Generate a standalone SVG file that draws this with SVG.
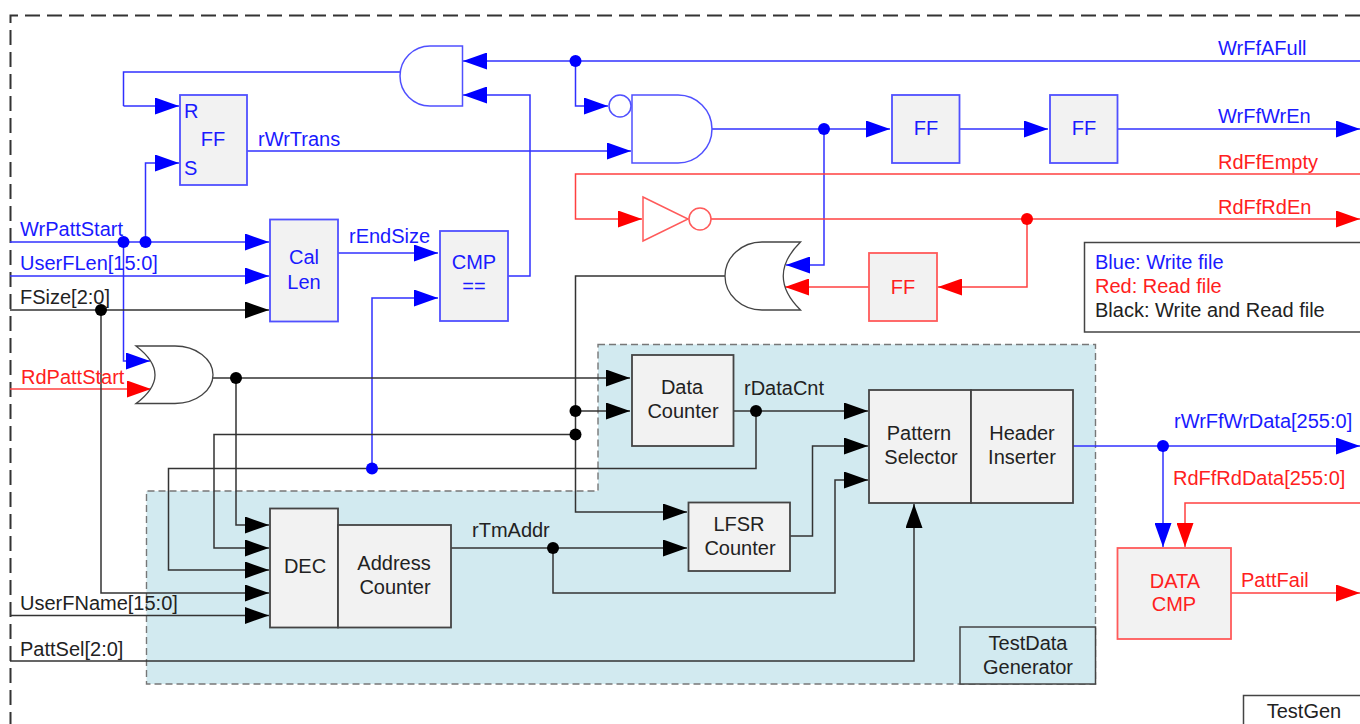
<svg xmlns="http://www.w3.org/2000/svg" width="1360" height="724" viewBox="0 0 1360 724">
<style>
text{font-family:"Liberation Sans",Arial,sans-serif;font-size:20px;text-anchor:middle}
.l{text-anchor:start}
.bt{fill:#1a1aff}.rt{fill:#ff2020}.kt{fill:#222}
.c{fill:none;stroke-width:1.5}
.b{stroke:#3030ff}.r{stroke:#ff4040}.k{stroke:#333}
.ab{marker-end:url(#ab)}.ar{marker-end:url(#ar)}.ak{marker-end:url(#ak)}
.nb{fill:#f2f2f2;stroke:#5050ff;stroke-width:1.8}
.nr{fill:#f2f2f2;stroke:#ff5a5a;stroke-width:1.8}
.nk{fill:#f2f2f2;stroke:#444;stroke-width:1.8}
.gb{fill:#fff;stroke:#5050ff;stroke-width:1.5}
.gr{fill:#fff;stroke:#ff5a5a;stroke-width:1.5}
.gk{fill:#fff;stroke:#444;stroke-width:1.3}
.db{fill:#0000ff}.dk{fill:#000}
</style>
<defs>
<marker id="ab" markerUnits="userSpaceOnUse" markerWidth="24" markerHeight="17" refX="24" refY="8.500" orient="auto"><path d="M0,0L24,8.500L0,17Z" fill="#0000ff"/></marker>
<marker id="ar" markerUnits="userSpaceOnUse" markerWidth="24" markerHeight="17" refX="24" refY="8.500" orient="auto"><path d="M0,0L24,8.500L0,17Z" fill="#ff0000"/></marker>
<marker id="ak" markerUnits="userSpaceOnUse" markerWidth="24" markerHeight="17" refX="24" refY="8.500" orient="auto"><path d="M0,0L24,8.500L0,17Z" fill="#000"/></marker>
</defs>
<rect width="1360" height="724" fill="#fff"/>
<g id="boundary">
<path d="M1360,15.500H10.500V724" fill="none" stroke="#333" stroke-width="2" stroke-dasharray="15,7"/>
<path d="M598,344.500H1095.500V684H146.500V491H598Z" fill="#d2eaf0" stroke="#777" stroke-width="1.4" stroke-dasharray="7,4"/>
</g>
<g id="connectors">
<path class="c b ab" d="M1360,61H463"/>
<path class="c b ab" d="M575.500,61V106H608"/>
<path class="c b" d="M400,72H123.500V106"/>
<path class="c b ab" d="M123.500,106H179"/>
<path class="c b ab" d="M145.500,242V163H179"/>
<path class="c b ab" d="M10,242H269"/>
<path class="c b ab" d="M10,276H269"/>
<path class="c b ab" d="M123.500,242V361H150"/>
<path class="c b ab" d="M247,151H631"/>
<path class="c b ab" d="M338,253H438"/>
<path class="c b ab" d="M508,276H530V95H463"/>
<path class="c b ab" d="M372,468.500V298H438"/>
<path class="c b ab" d="M711,129H890"/>
<path class="c b ab" d="M959,129H1048"/>
<path class="c b ab" d="M1117,129H1360"/>
<path class="c b ab" d="M824,129V265H786"/>
<path class="c b ab" d="M1073,446H1360"/>
<path class="c b ab" d="M1163,446V547"/>
<path class="c r ar" d="M1360,174H575.500V219H642"/>
<path class="c r ar" d="M711,219H1360"/>
<path class="c r ar" d="M1027,219V287H938"/>
<path class="c r ar" d="M869,287H785"/>
<path class="c r ar" d="M10,389H151"/>
<path class="c r ar" d="M1360,503H1185V547"/>
<path class="c r ar" d="M1231,593H1360"/>
<path class="c k ak" d="M10,310H269"/>
<path class="c k ak" d="M101,310V593H269"/>
<path class="c k ak" d="M10,615.500H269"/>
<path class="c k ak" d="M10,661H914V504"/>
<path class="c k ak" d="M212,378H630"/>
<path class="c k ak" d="M236,378V525H269"/>
<path class="c k ak" d="M575.500,434.500H214V548H269"/>
<path class="c k ak" d="M756,411V468.500H168.500V570H269"/>
<path class="c k ak" d="M725,276H575.500V512H687"/>
<path class="c k ak" d="M575.500,411H630"/>
<path class="c k ak" d="M733,411H868"/>
<path class="c k ak" d="M451,548H687"/>
<path class="c k ak" d="M553,548V593H835V480H868"/>
<path class="c k ak" d="M790,536H812.500V446H868"/>
<g class="db">
<circle cx="123.500" cy="242" r="6"/><circle cx="145.500" cy="242" r="6"/><circle cx="575.500" cy="61" r="6"/><circle cx="824" cy="129" r="6"/><circle cx="372" cy="468.500" r="6"/><circle cx="1163" cy="446" r="6"/>
</g>
<circle cx="1027" cy="219" r="6" fill="#ff0000"/>
<g class="dk">
<circle cx="101" cy="310" r="6"/><circle cx="236" cy="378" r="6"/><circle cx="575.500" cy="411" r="6"/><circle cx="575.500" cy="434.500" r="6"/><circle cx="756" cy="411" r="6"/><circle cx="553" cy="548" r="6"/>
</g>
<text class="l bt" x="20" y="236">WrPattStart</text>
<text class="l bt" x="20" y="270">UserFLen[15:0]</text>
<text class="l kt" x="20" y="304">FSize[2:0]</text>
<text class="l rt" x="21" y="384">RdPattStart</text>
<text class="l kt" x="20" y="610">UserFName[15:0]</text>
<text class="l kt" x="20" y="656">PattSel[2:0]</text>
<text class="l bt" x="258" y="146">rWrTrans</text>
<text class="l bt" x="349" y="243">rEndSize</text>
<text class="l kt" x="472" y="537">rTmAddr</text>
<text class="l kt" x="744" y="395">rDataCnt</text>
<text class="l bt" x="1218" y="55">WrFfAFull</text>
<text class="l bt" x="1218" y="123">WrFfWrEn</text>
<text class="l rt" x="1218" y="169">RdFfEmpty</text>
<text class="l rt" x="1218" y="214">RdFfRdEn</text>
<text class="l bt" x="1174" y="428">rWrFfWrData[255:0]</text>
<text class="l rt" x="1173" y="485">RdFfRdData[255:0]</text>
<text class="l rt" x="1241" y="587">PattFail</text>
</g>
<g id="and-reset"><path class="gb" d="M462.500,46H430A30,30 0 0 0 430,106H462.500Z"/></g>
<g id="ff-rs"><rect class="nb" x="180" y="95" width="67" height="90"/><text class="l bt" x="184" y="118">R</text><text class="bt" x="213" y="146">FF</text><text class="l bt" x="184" y="175">S</text></g>
<g id="cal-len"><rect class="nb" x="270" y="219.500" width="68" height="102"/><text class="bt" x="304" y="264">Cal</text><text class="bt" x="304" y="289">Len</text></g>
<g id="cmp"><rect class="nb" x="440" y="231" width="68" height="90"/><text class="bt" x="474" y="269">CMP</text><text class="bt" x="474" y="293">==</text></g>
<g id="and-write"><circle class="gb" cx="620" cy="106" r="11"/><path class="gb" d="M632,95H678A34,34 0 0 1 678,163H632Z"/></g>
<g id="ff-wr1"><rect class="nb" x="892" y="95" width="67.500" height="68"/><text class="bt" x="926" y="135">FF</text></g>
<g id="ff-wr2"><rect class="nb" x="1050" y="95" width="67.500" height="68"/><text class="bt" x="1084" y="135">FF</text></g>
<g id="inverter"><path class="gr" d="M643,197L688,219L643,241Z"/><circle class="gr" cx="700" cy="219" r="11"/></g>
<g id="or-top"><path class="gk" d="M800.500,242H762A37,34 0 0 0 762,310H800.500Q766,276 800.500,242Z"/></g>
<g id="ff-rd"><rect class="nr" x="869" y="253" width="68" height="68"/><text class="rt" x="903" y="294">FF</text></g>
<g id="or-start"><path class="gk" d="M136,346H175A38,28.750 0 0 1 175,403.500H136Q174,375 136,346Z"/></g>
<g id="data-counter"><rect class="nk" x="632" y="355" width="101.500" height="91"/><text class="kt" x="682" y="394">Data</text><text class="kt" x="683" y="418">Counter</text></g>
<g id="pattern-selector"><rect class="nk" x="869" y="390" width="102" height="113"/><text class="kt" x="919" y="440">Pattern</text><text class="kt" x="921" y="464">Selector</text></g>
<g id="header-inserter"><rect class="nk" x="971" y="390" width="102" height="113"/><text class="kt" x="1022" y="440">Header</text><text class="kt" x="1022" y="464">Inserter</text></g>
<g id="lfsr-counter"><rect class="nk" x="688.500" y="502.500" width="101.500" height="68.500"/><text class="kt" x="739" y="531">LFSR</text><text class="kt" x="740" y="555">Counter</text></g>
<g id="dec"><rect class="nk" x="270" y="508.500" width="68" height="119"/><text class="kt" x="305" y="573">DEC</text></g>
<g id="address-counter"><rect class="nk" x="338" y="525" width="113" height="102.500"/><text class="kt" x="394" y="570">Address</text><text class="kt" x="395" y="594">Counter</text></g>
<g id="testdata-label"><rect x="960" y="627" width="135.500" height="57" fill="#d2eaf0" stroke="#444" stroke-width="1.5"/><text class="kt" x="1028" y="650">TestData</text><text class="kt" x="1028" y="674">Generator</text></g>
<g id="data-cmp"><rect class="nr" x="1117.500" y="548" width="113.500" height="91"/><text class="rt" x="1175" y="588">DATA</text><text class="rt" x="1174" y="611">CMP</text></g>
<g id="legend"><path d="M1360,242.500H1084.500V332H1360" fill="#fff" stroke="#444" stroke-width="1.5"/><text class="l bt" x="1095" y="269">Blue: Write file</text><text class="l rt" x="1095" y="293">Red: Read file</text><text class="l kt" x="1095" y="317">Black: Write and Read file</text></g>
<g id="testgen"><path d="M1360,695.500H1243.500V724" fill="#fff" stroke="#444" stroke-width="1.5"/><text class="kt" x="1304" y="718">TestGen</text></g>
</svg>
